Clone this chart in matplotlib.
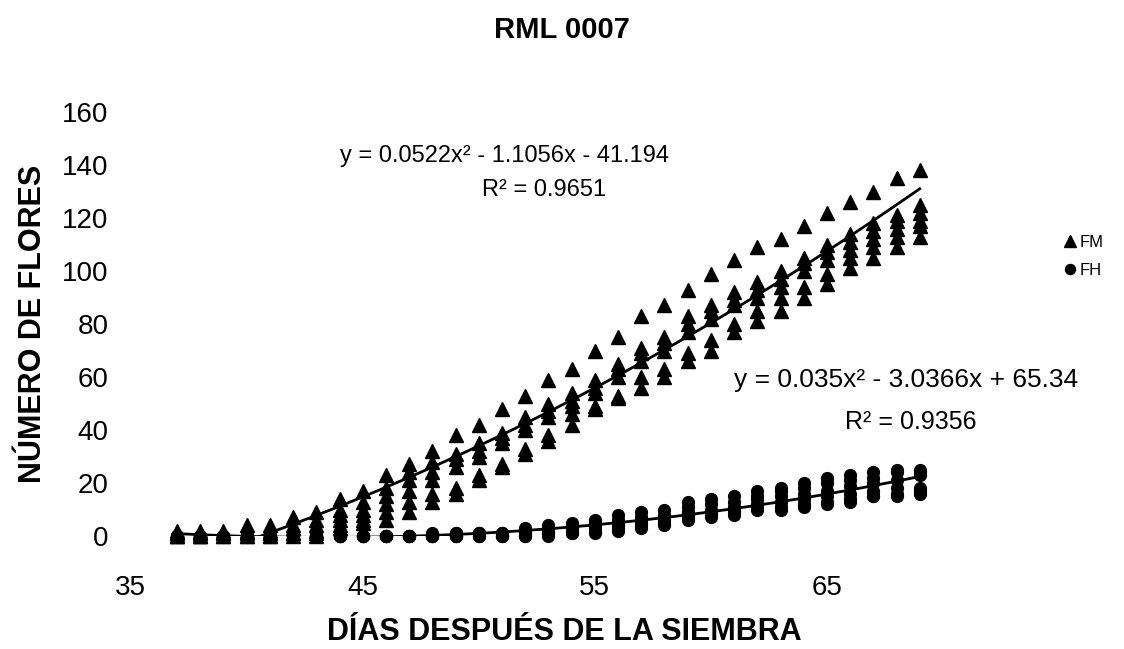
import matplotlib
matplotlib.use("Agg")
import matplotlib.pyplot as plt
import numpy as np

plt.rcParams["font.family"] = ["Liberation Sans", "DejaVu Sans"]

# days after sowing, one column of plants per day
days = list(range(37, 70))

# FM (male flowers), 6 plants per day
fm = [
    [2, 1, 1, 0, 0, 0], [2, 1, 1, 0, 0, 0], [2, 1, 1, 1, 0, 0],
    [4, 2, 1, 1, 0, 0], [4, 2, 1, 1, 0, 0], [7, 4, 3, 1, 1, 0],
    [9, 6, 4, 2, 1, 0], [14, 10, 8, 6, 4, 3], [17, 13, 10, 8, 6, 5],
    [23, 18, 15, 12, 9, 6], [27, 24, 21, 17, 13, 9], [32, 28, 24, 21, 16, 13],
    [38, 31, 29, 26, 18, 16], [42, 35, 32, 30, 23, 21], [48, 39, 37, 35, 27, 26],
    [53, 45, 42, 40, 33, 31], [59, 50, 47, 45, 38, 36], [63, 54, 51, 49, 46, 42],
    [70, 59, 56, 54, 49, 48], [75, 65, 63, 60, 53, 52], [83, 71, 69, 66, 60, 56],
    [87, 75, 73, 70, 63, 60], [93, 83, 80, 77, 69, 66], [99, 87, 85, 82, 74, 70],
    [104, 92, 89, 87, 80, 77], [109, 96, 93, 90, 85, 81], [112, 100, 97, 94, 90, 85],
    [117, 105, 103, 100, 94, 90], [122, 110, 107, 104, 99, 95], [126, 114, 111, 108, 105, 101],
    [130, 118, 115, 112, 109, 105], [135, 121, 119, 116, 113, 109], [138, 125, 122, 119, 117, 113],
]

# FH (female flowers)
fh = [
    [0, 0, 0, 0, 0, 0], [0, 0, 0, 0, 0, 0], [0, 0, 0, 0, 0, 0],
    [0, 0, 0, 0, 0, 0], [0, 0, 0, 0, 0, 0], [0, 0, 0, 0, 0, 0],
    [0, 0, 0, 0, 0, 0], [0, 0, 0, 0, 0, 0], [0, 0, 0, 0, 0, 0],
    [0, 0, 0, 0, 0, 0], [0, 0, 0, 0, 0, 0], [1, 0, 0, 0, 0, 0],
    [1, 1, 0, 0, 0, 0], [1, 1, 1, 0, 0, 0], [1, 1, 1, 0, 0, 0],
    [3, 2, 1, 1, 0, 0], [4, 3, 2, 1, 1, 0], [5, 4, 3, 2, 1, 1],
    [6, 5, 4, 3, 2, 1], [8, 6, 5, 4, 3, 2], [9, 7, 6, 5, 4, 3],
    [10, 8, 7, 6, 5, 4], [13, 11, 9, 8, 7, 6], [14, 12, 10, 9, 8, 7],
    [15, 13, 11, 10, 9, 8], [17, 15, 14, 12, 11, 10], [18, 17, 15, 13, 11, 10],
    [20, 18, 16, 14, 12, 11], [22, 20, 17, 15, 13, 12], [23, 21, 19, 16, 14, 13],
    [24, 22, 20, 17, 15, 15], [25, 24, 21, 18, 16, 15], [25, 24, 23, 18, 17, 16],
]

# trendline coefficients as printed on the chart (a x^2 + b x + c)
fm_coef = [0.0522, -1.1056, -41.194]
fh_coef = [0.035, -3.0366, 65.34]

x_fm = np.repeat(days, [len(v) for v in fm])
y_fm = np.concatenate(fm)
x_fh = np.repeat(days, [len(v) for v in fh])
y_fh = np.concatenate(fh)

fig = plt.figure(figsize=(11.24, 6.49), dpi=100)
ax = fig.add_axes([0.1162, 0.1741, 0.826, 0.6533])

ax.plot(x_fm, y_fm, "^", color="black", markersize=10, clip_on=False, label="FM")
ax.plot(x_fh, y_fh, "o", color="black", markersize=8.5, clip_on=False, label="FH")

xs = np.linspace(days[0], days[-1], 300)
ax.plot(xs, np.polyval(fm_coef, xs), color="black", lw=2)
ax.plot(xs, np.polyval(fh_coef, xs), color="black", lw=2)

ax.text(51.1, 143.5, "y = 0.0522x² - 1.1056x - 41.194", fontsize=17, ha="center", va="center")
ax.text(52.8, 130.5, "R² = 0.9651", fontsize=17, ha="center", va="center")
ax.text(68.4, 59, "y = 0.035x² - 3.0366x + 65.34", fontsize=19, ha="center", va="center")
ax.text(68.6, 43, "R² = 0.9356", fontsize=18, ha="center", va="center")

ax.set_xlim(35, 75)
ax.set_ylim(0, 160)
ax.set_xticks([35, 45, 55, 65])
ax.set_yticks(range(0, 161, 20))
ax.tick_params(length=0, labelsize=20)
ax.tick_params(axis="x", pad=28)
ax.tick_params(axis="y", pad=16)
for s in ax.spines.values():
    s.set_visible(False)

ax.set_xlabel("DÍAS DESPUÉS DE LA SIEMBRA", fontsize=22, fontweight="bold")
ax.xaxis.set_label_coords(0.467, -0.192)
ax.set_ylabel("NÚMERO DE FLORES", fontsize=22, fontweight="bold", labelpad=10)
fig.suptitle("RML 0007", fontsize=21, fontweight="bold", y=0.975)

ax.legend(loc="center left", bbox_to_anchor=(0.99, 0.66), frameon=False, fontsize=12,
          handlelength=0.6, handletextpad=0.3, markerscale=0.85, labelspacing=0.8)

fig.savefig("out.png", dpi=100)
